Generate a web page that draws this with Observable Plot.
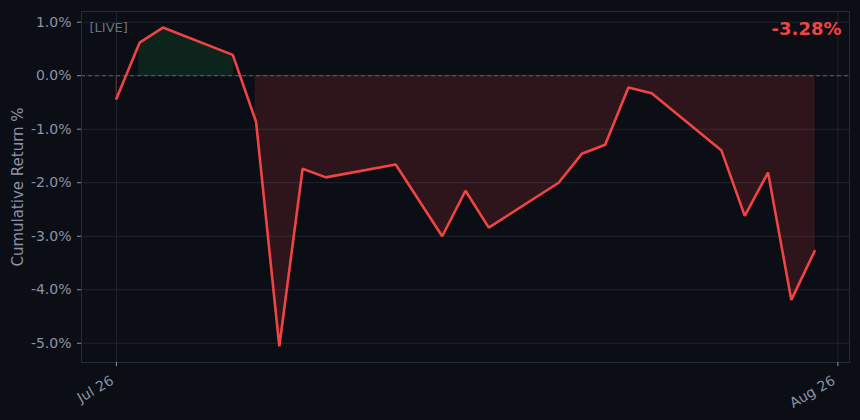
<!DOCTYPE html>
<html>
<head>
<meta charset="utf-8">
<script src="https://cdn.jsdelivr.net/npm/d3@7"></script>
<script src="https://cdn.jsdelivr.net/npm/@observablehq/plot@0.6"></script>
<style>
  html, body { margin: 0; padding: 0; background: #0b0e14; }
  #chart svg { display: block; }
</style>
</head>
<body>
<div id="chart"></div>
<script>
const dates = ["2024-07-26","2024-07-27","2024-07-28","2024-07-31","2024-08-01","2024-08-02","2024-08-03","2024-08-04","2024-08-07","2024-08-09","2024-08-10","2024-08-11","2024-08-14","2024-08-15","2024-08-16","2024-08-17","2024-08-18","2024-08-21","2024-08-22","2024-08-23","2024-08-24","2024-08-25"];
const returns = [-0.43, 0.62, 0.90, 0.39, -0.86, -5.06, -1.74, -1.90, -1.66, -3.00, -2.15, -2.84, -2.00, -1.46, -1.29, -0.22, -0.33, -1.40, -2.62, -1.81, -4.19, -3.28];
const yTicks = [-5, -4, -3, -2, -1, 0, 1];
const xTicks = ["2024-07-26", "2024-08-26"];
const liveLabel = "[LIVE]";
const yLabel = "Cumulative Return %";

const data = dates.map((d, i) => ({date: new Date(d + "T00:00:00Z"), value: returns[i]}));
const xTickDates = xTicks.map(d => new Date(d + "T00:00:00Z"));
// contiguous runs of sign (fill where positive / negative)
let seg = 0, prevSign = null;
data.forEach(d => {
  const s = d.value >= 0;
  if (prevSign !== null && s !== prevSign) seg++;
  d.seg = seg; d.pos = s; prevSign = s;
});
const segCount = d3.rollup(data, v => v.length, d => d.seg);
const singles = data.filter(d => segCount.get(d.seg) === 1);
const last = returns[returns.length - 1];

const chart = Plot.plot({
  width: 860,
  height: 420,
  marginLeft: 81,
  marginRight: 11,
  marginTop: 11,
  marginBottom: 58,
  style: {background: "#0b0e14", color: "#8b93a5", fontFamily: "DejaVu Sans, sans-serif", fontSize: "14px"},
  x: {type: "utc", domain: [new Date("2024-07-24T12:00:00Z"), new Date("2024-08-26T12:00:00Z")]},
  y: {domain: [-5.36, 1.2]},
  marks: [
    Plot.gridY(yTicks, {stroke: "#1f2433", strokeOpacity: 1}),
    Plot.gridX(xTickDates, {stroke: "#1f2433", strokeOpacity: 1}),
    Plot.areaY(data.filter(d => d.pos), {x: "date", y1: 0, y2: "value", z: "seg", fill: "#22c55e", fillOpacity: 0.12, stroke: "#22c55e", strokeOpacity: 0.12, curve: "linear"}),
    Plot.areaY(data.filter(d => !d.pos), {x: "date", y1: 0, y2: "value", z: "seg", fill: "#ef4444", fillOpacity: 0.15, stroke: "#ef4444", strokeOpacity: 0.15, curve: "linear"}),
    Plot.ruleX(singles, {x: "date", y1: 0, y2: "value", stroke: d => d.pos ? "#22c55e" : "#ef4444", strokeOpacity: 0.2}),
    Plot.ruleY([0], {stroke: "#5a6070", strokeDasharray: "4,3", strokeWidth: 1}),
    Plot.line(data, {x: "date", y: "value", stroke: "#ef4444", strokeWidth: 2.6, strokeLinejoin: "miter"}),
    Plot.frame({stroke: "#232a38", strokeWidth: 1}),
    Plot.axisY(yTicks, {tickFormat: d => d.toFixed(1) + "%", tickSize: 4, tickPadding: 6, stroke: "#8b93a5", fill: "#8b93a5", fontSize: 14, label: null}),
    Plot.text([yLabel], {frameAnchor: "left", dx: -63, rotate: -90, textAnchor: "middle", fill: "#8b93a5", fontSize: 15}),
    Plot.axisX(xTickDates, {tickFormat: () => "", tickSize: 4, stroke: "#8b93a5", label: null}),
    Plot.axisX(xTickDates, {tickFormat: d3.utcFormat("%b %d"), tickSize: 0, tickPadding: 17, dx: -4, tickRotate: -30, fill: "#8b93a5", fontSize: 14, label: null}),
    Plot.text([liveLabel], {frameAnchor: "top-left", dx: 8, dy: 11, fill: "#6b7280", fontSize: 13}),
    Plot.text([last.toFixed(2) + "%"], {frameAnchor: "top-right", dx: -8, dy: 11, fill: "#ef4444", fontSize: 18, fontWeight: "bold"})
  ]
});
document.getElementById("chart").append(chart);
</script>
</body>
</html>
